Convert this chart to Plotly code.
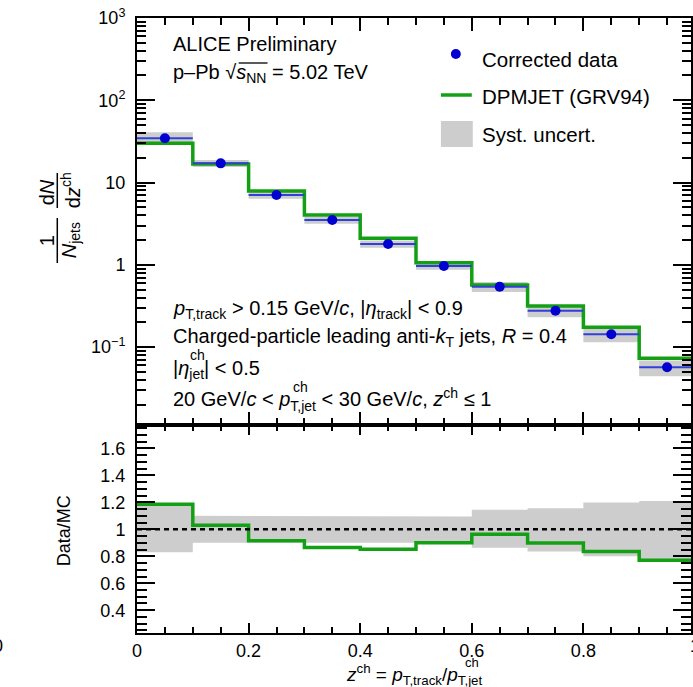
import plotly.graph_objects as go

# ---------------- data ----------------
bin_lo = [0.0, 0.1, 0.2, 0.3, 0.4, 0.5, 0.6, 0.7, 0.8, 0.9]
bin_hi = [0.1, 0.2, 0.3, 0.4, 0.5, 0.6, 0.7, 0.8, 0.9, 1.0]
z_center = [0.05, 0.15, 0.25, 0.35, 0.45, 0.55, 0.65, 0.75, 0.85, 0.95]
data_vals = [34.5, 17.1, 7.05, 3.50, 1.79, 0.966, 0.541, 0.276, 0.1427, 0.0567]
mc_vals = [29.97, 16.8, 7.88, 4.03, 2.10, 1.059, 0.567, 0.315, 0.1736, 0.0729]
ratio_vals = [1.187, 1.03, 0.915, 0.865, 0.853, 0.90, 0.964, 0.898, 0.836, 0.77]
syst_hi = [1.185, 1.10, 1.095, 1.095, 1.10, 1.096, 1.145, 1.157, 1.20, 1.21]
syst_lo = [0.83, 0.90, 0.90, 0.90, 0.90, 0.90, 0.863, 0.836, 0.80, 0.78]

ytick_vals = [0.1, 1, 10, 100, 1000]
ytick_text = ["10<sup>\u22121</sup>", "1", "10", "10<sup>2</sup>", "10<sup>3</sup>"]
rtick_vals = [0.4, 0.6, 0.8, 1.0, 1.2, 1.4, 1.6]
rtick_text = ["0.4", "0.6", "0.8", "1", "1.2", "1.4", "1.6"]
xtick_vals = [0, 0.2, 0.4, 0.6, 0.8]
xtick_text = ["0", "0.2", "0.4", "0.6", "0.8"]

# ---------------- geometry ----------------
W, H = 693, 687
L, R, T, B = 137, 0, 18, 54
PW, PH = W - L - R, H - T - B
def px(x):
    return (x - L) / PW
def py(y):
    return (H - B - y) / PH

FONT = "Liberation Sans, Arial, Helvetica, sans-serif"
GREEN = "#14a014"
BLUE = "#0000d0"
GRAY = "#cdcdcd"

fig = go.Figure()

# systematic boxes (top)
bx, by = [], []
for lo, hi, d, sl, sh in zip(bin_lo, bin_hi, data_vals, syst_lo, syst_hi):
    bx += [lo, hi, hi, lo, lo, None]
    by += [d * sl, d * sl, d * sh, d * sh, d * sl, None]
fig.add_trace(go.Scatter(x=bx, y=by, fill="toself", fillcolor=GRAY, mode="lines",
                         line=dict(width=0, color=GRAY), hoverinfo="skip",
                         showlegend=False, xaxis="x", yaxis="y"))

# MC step (top)
fig.add_trace(go.Scatter(x=bin_lo + [bin_hi[-1]], y=mc_vals + [mc_vals[-1]],
                         mode="lines", line=dict(color=GREEN, width=3.5, shape="hv"),
                         showlegend=False, xaxis="x", yaxis="y"))

# data points
half_w = [(h - l) / 2 for l, h in zip(bin_lo, bin_hi)]
fig.add_trace(go.Scatter(x=z_center, y=data_vals, mode="markers",
                         marker=dict(color=BLUE, size=10),
                         error_x=dict(type="data", array=half_w, color="#3040d8",
                                      thickness=2, width=0),
                         showlegend=False, xaxis="x", yaxis="y"))

# ratio band (bottom)
rbx, rby = [], []
for lo, hi, sh in zip(bin_lo, bin_hi, syst_hi):
    rbx += [lo, hi]
    rby += [sh, sh]
for lo, hi, sl in reversed(list(zip(bin_lo, bin_hi, syst_lo))):
    rbx += [hi, lo]
    rby += [sl, sl]
fig.add_trace(go.Scatter(x=rbx, y=rby, fill="toself", fillcolor=GRAY, mode="lines",
                         line=dict(width=0, color=GRAY), hoverinfo="skip",
                         showlegend=False, xaxis="x2", yaxis="y2"))

# ratio step
fig.add_trace(go.Scatter(x=bin_lo + [bin_hi[-1]], y=ratio_vals + [ratio_vals[-1]],
                         mode="lines", line=dict(color=GREEN, width=3.5, shape="hv"),
                         showlegend=False, xaxis="x2", yaxis="y2"))

xr = [0, PW / 560.0]
split = py(425)

axis_common = dict(showline=True, linewidth=2, linecolor="black", mirror="allticks",
                   ticks="inside", tickwidth=2, tickcolor="black", showgrid=False,
                   zeroline=False)

fig.update_layout(
    width=W, height=H, margin=dict(l=L, r=R, t=T, b=B),
    paper_bgcolor="white", plot_bgcolor="white",
    font=dict(family=FONT, size=18, color="black"),
    showlegend=False,
    xaxis=dict(domain=[0, 1], anchor="y", range=xr, tickmode="array",
               tickvals=[0, 0.2, 0.4, 0.6, 0.8, 1.0], showticklabels=False, ticklen=13,
               minor=dict(dtick=0.05, tick0=0, ticks="inside", ticklen=7, tickwidth=1.5,
                          tickcolor="black"),
               **axis_common),
    yaxis=dict(domain=[split, 1], anchor="x", type="log", range=[-1.948, 3],
               tickmode="array", tickvals=ytick_vals, ticktext=ytick_text, ticklen=18,
               ticklabelstandoff=6, tickfont=dict(size=18),
               minor=dict(tickmode="array",
                          tickvals=[m * 10 ** e for e in range(-2, 3) for m in range(2, 10)],
                          ticks="inside", ticklen=9, tickwidth=1.5, tickcolor="black"),
               **axis_common),
    xaxis2=dict(domain=[0, 1], anchor="y2", range=xr, tickmode="array",
                tickvals=xtick_vals, ticktext=xtick_text, ticklen=10,
                tickfont=dict(size=18),
                minor=dict(dtick=0.05, tick0=0, ticks="inside", ticklen=6, tickwidth=1.5,
                           tickcolor="black"),
                **axis_common),
    yaxis2=dict(domain=[0, split], anchor="x2", range=[0.231, 1.774], tickmode="array",
                tickvals=rtick_vals, ticktext=rtick_text, ticklen=18, ticklabelstandoff=6,
                tickfont=dict(size=18),
                minor=dict(dtick=0.05, tick0=0, ticks="inside", ticklen=10, tickwidth=1.5,
                           tickcolor="black"),
                **axis_common),
)

# dotted line at 1
fig.add_shape(type="line", xref="x2", yref="y2", x0=0, x1=1.0, y0=1, y1=1,
              line=dict(color="black", width=2.5, dash="5px,4px"))

ann = []
def text(x, y, s, size=20, xa="left", ya="middle", angle=0):
    ann.append(dict(x=px(x), y=py(y), xref="paper", yref="paper", text=s, showarrow=False,
                    xanchor=xa, yanchor=ya, textangle=angle,
                    font=dict(family=FONT, size=size, color="black")))

text(171, 44, "ALICE Preliminary")
text(171, 73, "p\u2013Pb \u221a<i>s</i><sub>NN</sub> = 5.02 TeV")
# overbar of the square root
fig.add_shape(type="line", xref="paper", yref="paper", x0=px(239), x1=px(268),
              y0=py(63), y1=py(63), line=dict(color="black", width=1.3))
text(171, 309, "<i>p</i><sub>T,track</sub> > 0.15 GeV/<i>c</i>, |<i>\u03b7</i><sub>track</sub>| < 0.9")
text(171, 338, "Charged-particle leading anti-<i>k</i><sub>T</sub> jets, <i>R</i> = 0.4")
text(171, 369, "|<i>\u03b7</i><sub>jet</sub>| < 0.5")
text(188, 355, "ch", size=14)
text(171, 399, "20 GeV/<i>c</i> < <i>p</i><sub>T,jet</sub> < 30 GeV/<i>c</i>, <i>z</i><sup>ch</sup> \u2264 1")
text(292, 387, "ch", size=14)

# legend
text(481, 60, "Corrected data", size=20.5)
text(481, 96, "DPMJET (GRV94)", size=20.5)
text(481, 135, "Syst. uncert.", size=20.5)
fig.add_shape(type="circle", xref="paper", yref="paper", x0=px(452), x1=px(462),
              y0=py(59), y1=py(49), fillcolor=BLUE, line=dict(width=0))
fig.add_shape(type="line", xref="paper", yref="paper", x0=px(442), x1=px(473),
              y0=py(95), y1=py(95), line=dict(color=GREEN, width=3.5))
fig.add_shape(type="rect", xref="paper", yref="paper", x0=px(442), x1=px(474),
              y0=py(147), y1=py(121), fillcolor=GRAY, line=dict(width=0))

# y title of top panel (fraction)
text(47, 241, "1", size=20, xa="center", angle=-90)
text(70, 240, "<i>N</i><sub>jets</sub>", size=20, xa="center", angle=-90)
text(47, 192, "d<i>N</i>", size=20, xa="center", angle=-90)
text(70, 190, "d<i>z</i><sup>ch</sup>", size=20, xa="center", angle=-90)
for y0, y1 in [(218, 263), (173, 208)]:
    fig.add_shape(type="line", xref="paper", yref="paper", x0=px(57), x1=px(57),
                  y0=py(y0), y1=py(y1), line=dict(color="black", width=1.5))

# ratio y title
text(64, 531, "Data/MC", size=18, xa="center", angle=-90)

# x title
text(415, 674, "<i>z</i><sup>ch</sup> = <i>p</i><sub>T,track</sub>/<i>p</i><sub>T,jet</sub>",
     size=19, xa="center")
text(464, 662, "ch", size=13)

# cut-off labels at the picture edges
text(697, 646, "1", size=18, xa="center")
text(-3, 646, "0", size=18, xa="center")

fig.update_layout(annotations=ann)
fig.write_html("out.html", post_script="document.body.style.margin='0px';",
               config={"displayModeBar": False})
